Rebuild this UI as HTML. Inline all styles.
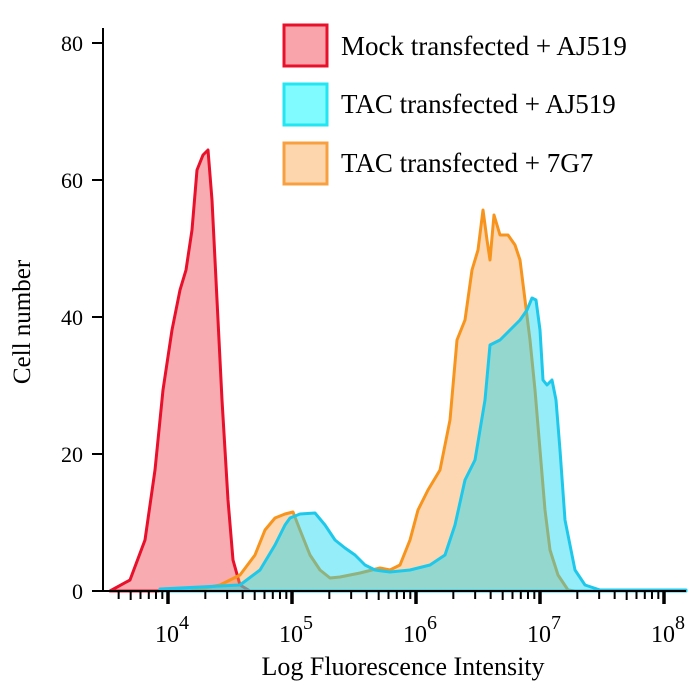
<!DOCTYPE html>
<html><head><meta charset="utf-8"><style>
html,body{margin:0;padding:0;background:#fff;}
svg{display:block;font-family:"Liberation Serif",serif;}
</style></head><body>
<svg id="s" width="697" height="693" viewBox="0 0 697 693" xmlns="http://www.w3.org/2000/svg">
<path d="M110,591 L130,580 L145,540 L155,470 L163,390 L172,330 L180,290 L186,270 L192,230 L197,170 L203,155 L208,150 L212,200 L217,300 L222,400 L228,500 L233,560 L240,585 L250,591 Z" fill="rgba(242,90,100,0.5)" stroke="#e8102a" stroke-width="3" stroke-linejoin="round"/>
<path d="M190,591 L220,585 L240,575 L255,555 L265,530 L275,518 L285,514 L293,512 L300,530 L310,555 L320,570 L330,578 L340,577 L360,573 L380,568 L390,570 L400,565 L410,540 L418,510 L428,490 L440,470 L450,420 L457,340 L465,320 L472,270 L478,250 L483,210 L487,240 L490,260 L494,215 L500,235 L508,235 L515,245 L520,260 L525,300 L530,340 L535,390 L540,450 L545,510 L550,550 L558,575 L568,590 L575,591 Z" fill="rgba(250,160,70,0.42)" stroke="#f7941d" stroke-width="3" stroke-linejoin="round"/>
<path d="M160,591 L160,589 L240,585 L260,570 L275,545 L285,525 L290,518 L300,514 L315,513 L325,525 L335,540 L345,548 L355,555 L365,565 L375,570 L390,572 L410,570 L430,565 L445,555 L455,525 L465,480 L475,460 L485,400 L490,345 L500,340 L510,330 L520,320 L527,310 L532,298 L536,300 L540,330 L543,380 L547,385 L552,380 L556,400 L560,450 L565,520 L575,570 L585,585 L600,590 L686,590 L686,591 Z" fill="rgba(20,215,245,0.45)" stroke="#1ec8ea" stroke-width="3" stroke-linejoin="round"/>
<g id="ax" stroke="#000" fill="none"></g>
<g font-size="22" text-anchor="end" fill="#000">
<text x="83" y="51">80</text><text x="83" y="188">60</text><text x="83" y="325">40</text><text x="83" y="462">20</text><text x="83" y="599">0</text>
</g>
<g id="xl" font-size="24" fill="#000"></g>
<text x="403" y="675" font-size="26" text-anchor="middle">Log Fluorescence Intensity</text>
<text transform="translate(30,322) rotate(-90)" font-size="25" text-anchor="middle">Cell number</text>
<rect x="284" y="25" width="43" height="41" fill="#f9a4aa" stroke="#e8102a" stroke-width="3"/>
<rect x="284" y="84" width="43" height="41" fill="#80fbff" stroke="#22e6f2" stroke-width="3"/>
<rect x="284" y="143" width="43" height="41" fill="#fdd6ae" stroke="#f8a040" stroke-width="3"/>
<g font-size="27" fill="#000">
<text x="341" y="55">Mock transfected + AJ519</text>
<text x="341" y="113">TAC transfected + AJ519</text>
<text x="341" y="172">TAC transfected + 7G7</text>
</g>
</svg>
<script>
var ax=document.getElementById('ax'),xl=document.getElementById('xl'),ns='http://www.w3.org/2000/svg';
function ln(x1,y1,x2,y2,w){var l=document.createElementNS(ns,'line');l.setAttribute('x1',x1);l.setAttribute('y1',y1);l.setAttribute('x2',x2);l.setAttribute('y2',y2);l.setAttribute('stroke-width',w);ax.appendChild(l);}
ln(103,28,103,592,2);ln(102,591,686,591,2);
[43,180,317,454,591].forEach(function(y){ln(92,y,103,y,2);});
var x0=168,d=124;
for(var e=3;e<=8;e++){for(var m=1;m<=9;m++){var x=x0+(e-4+Math.log10(m))*d;if(x<104||x>686)continue;
 if(m==1){ln(x,591,x,604,3.5);var t=document.createElementNS(ns,'text');t.setAttribute('x',x-13);t.setAttribute('y',642);t.innerHTML='10<tspan dy="-13" font-size="20">'+e+'</tspan>';xl.appendChild(t);}
 else ln(x,591,x,(m==5?600:599),2);}}
</script>
</body></html>
